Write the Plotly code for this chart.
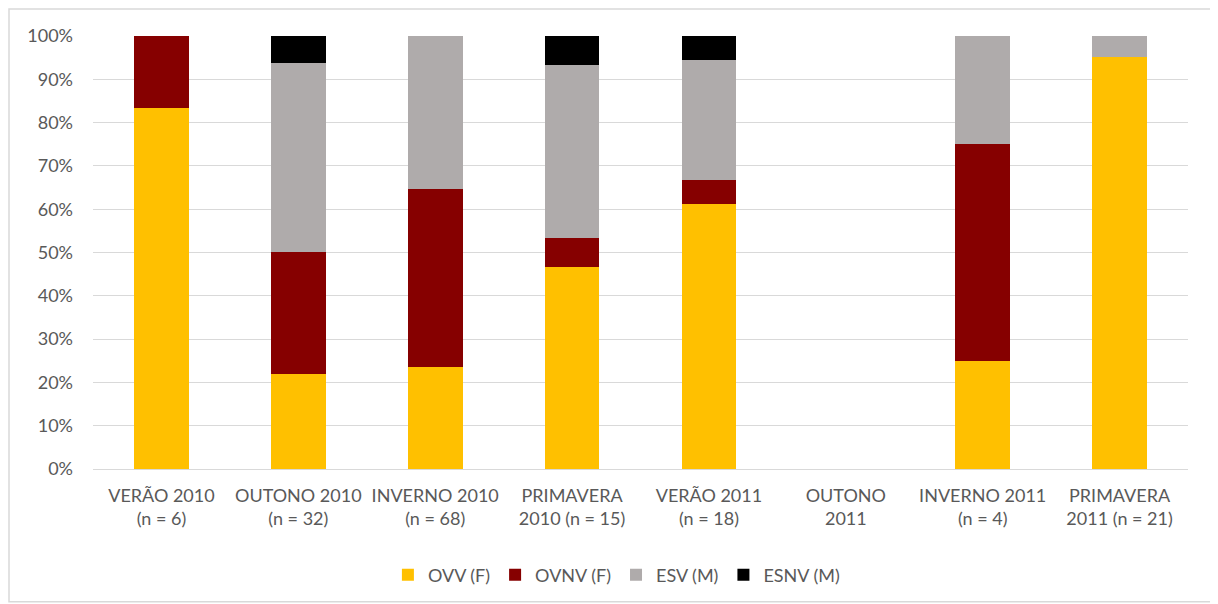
import plotly.graph_objects as go

categories = ["VERÃO 2010<br>(n = 6)", "OUTONO 2010<br>(n = 32)", "INVERNO 2010<br>(n = 68)",
              "PRIMAVERA<br>2010 (n = 15)", "VERÃO 2011<br>(n = 18)", "OUTONO<br>2011",
              "INVERNO 2011<br>(n = 4)", "PRIMAVERA<br>2011 (n = 21)"]

ovv = [83.33, 21.88, 23.53, 46.67, 61.11, 0, 25.0, 95.24]
ovnv = [16.67, 28.13, 41.18, 6.67, 5.56, 0, 50.0, 0]
esv = [0, 43.75, 35.29, 40.0, 27.78, 0, 25.0, 4.76]
esnv = [0, 6.25, 0, 6.67, 5.56, 0, 0, 0]

series = [("OVV (F)", ovv, "#FFC000"), ("OVNV (F)", ovnv, "#860000"),
          ("ESV (M)", esv, "#AFABAB"), ("ESNV (M)", esnv, "#000000")]

fig = go.Figure()
for name, vals, col in series:
    fig.add_trace(go.Bar(x=categories, y=vals, name=name, marker=dict(color=col, line=dict(width=0))))

# page body adds 8px offset, so figure is sized to the visible area
fig.update_layout(
    barmode="stack", bargap=0.6,
    width=1210, height=596,
    margin=dict(l=85, r=30, t=28, b=134),
    paper_bgcolor="white", plot_bgcolor="white",
    font=dict(family="Lato, Calibri, sans-serif", size=18, color="#595959"),
    legend=dict(orientation="h", x=0.478, xanchor="center", y=-0.242, yanchor="middle",
                font=dict(size=18), itemwidth=30, traceorder="normal"),
    xaxis=dict(showline=True, linecolor="#d9d9d9", linewidth=1, ticks="", tickfont=dict(size=18),
               ticklabelstandoff=10),
    yaxis=dict(range=[0, 100], dtick=10, ticksuffix="%", showgrid=True, gridcolor="#d9d9d9",
               zeroline=False, showline=False, tickfont=dict(size=18), ticklabelstandoff=19),
    shapes=[dict(type="rect", xref="paper", yref="paper",
                 x0=-84 / 1095, x1=1124 / 1095, y0=-133 / 434, y1=1 + 27 / 434,
                 line=dict(color="#d9d9d9", width=1.5), layer="below")],
)

fig.write_html("out.html")
